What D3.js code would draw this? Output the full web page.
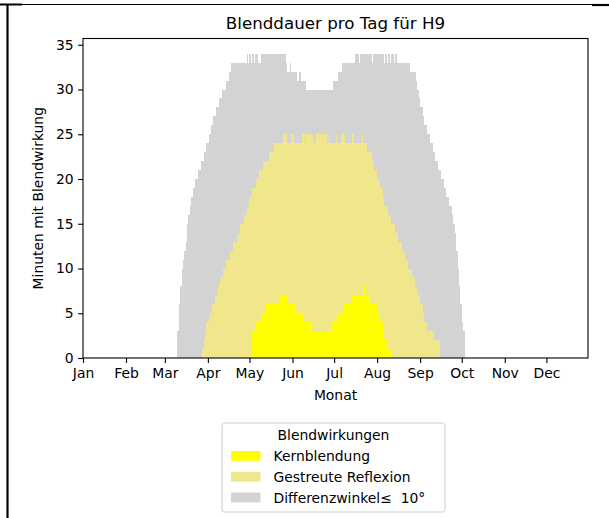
<!DOCTYPE html>
<html>
<head>
<meta charset="UTF-8">
<title>Blenddauer pro Tag für H9</title>
<script src="https://d3js.org/d3.v7.min.js"></script>
<style>
body { margin: 0; background: #fff; }
text { font-family: "DejaVu Sans", sans-serif; fill: #000; }
</style>
</head>

<body>

<figure class=chart style="margin:0"></figure>

<script type="text/javascript">

/* Data: runs of days [start day, end day, minutes], day 0 = 1 Jan */
var monthNames = ['Jan', 'Feb', 'Mar', 'Apr', 'May', 'Jun', 'Jul', 'Aug', 'Sep', 'Oct', 'Nov', 'Dec'];
var monthStarts = [0, 31, 59, 90, 120, 151, 181, 212, 243, 273, 304, 334];
var yTicks = [0, 5, 10, 15, 20, 25, 30, 35];

var winkelRuns = [[68,69,3],[69,70,6],[70,71,8],[71,72,10],[72,73,11],[73,74,12],[74,75,13],[75,76,15],
	[76,77,16],[77,78,17],[78,79,18],[79,81,19],[81,83,20],[83,85,21],[85,87,22],[87,89,23],[89,91,24],
	[91,92,25],[92,94,26],[94,96,27],[96,98,28],[98,100,29],[100,103,30],[103,105,31],[105,107,32],
	[107,118,33],[118,119,34],[119,120,33],[120,121,34],[121,122,33],[122,123,34],[123,124,33],[124,126,34],
	[126,128,33],[128,146,34],[146,147,33],[147,149,32],[149,150,33],[150,154,32],[154,156,31],[156,157,32],
	[157,161,31],[161,180,30],[180,184,31],[184,187,32],[187,196,33],[196,199,34],[199,200,33],[200,208,34],
	[208,209,33],[209,217,34],[217,218,33],[218,219,34],[219,220,33],[220,221,34],[221,222,33],[222,224,34],
	[224,225,33],[225,226,34],[226,236,33],[236,240,32],[240,241,31],[241,242,30],[242,243,29],[243,245,28],
	[245,246,27],[246,248,26],[248,250,25],[250,252,24],[252,254,23],[254,256,22],[256,258,21],[258,260,20],
	[260,262,19],[262,264,18],[264,266,17],[266,267,16],[267,268,15],[268,269,14],[269,270,12],[270,271,10],
	[271,272,8],[272,273,6],[273,274,4],[274,275,3]];

var streuRuns = [[86,87,1],[87,88,2],[88,89,3],[89,91,4],[91,93,5],[93,95,6],[95,97,7],[97,99,8],[99,101,9],
	[101,103,10],[103,106,11],[106,108,12],[108,111,13],[111,113,14],[113,116,15],[116,118,16],[118,120,17],
	[120,122,18],[122,125,19],[125,127,20],[127,130,21],[130,134,22],[134,138,23],[138,144,24],[144,147,25],
	[147,150,24],[150,152,25],[152,158,24],[158,160,25],[160,161,24],[161,166,25],[166,168,24],[168,176,25],
	[176,177,24],[177,178,25],[178,182,24],[182,183,25],[183,186,24],[186,189,25],[189,194,24],[194,195,25],
	[195,201,24],[201,202,25],[202,205,24],[205,208,23],[208,210,22],[210,212,21],[212,214,20],[214,216,19],
	[216,217,18],[217,220,17],[220,222,16],[222,225,15],[225,227,14],[227,230,13],[230,232,12],[232,234,11],
	[234,237,10],[237,239,9],[239,241,8],[241,243,7],[243,245,6],[245,246,5],[246,248,4],[248,253,3],[253,257,2]];

var kernRuns = [[122,125,3],[125,129,4],[129,132,5],[132,142,6],[142,147,7],[147,153,6],[153,159,5],
	[159,165,4],[165,179,3],[179,183,4],[183,188,5],[188,194,6],[194,202,7],[202,204,8],[204,207,7],
	[207,212,6],[212,214,5],[214,216,4],[216,220,2],[220,223,1]];

var seriesNames = ['Kernblendung', 'Gestreute Reflexion', 'Differenzwinkel\u2264  10\u00b0'];
var seriesColors = ['#ffff00', '#f0e68c', '#d3d3d3'];

/* Global variables */
var W = 609, H = 518
var plotLeft = 83, plotRight = 588, plotTop = 38.5, plotBottom = 358

var x = d3.scaleLinear().domain([0, 364]).range([plotLeft, plotRight])
var y = d3.scaleLinear().domain([0, 35.7]).range([plotBottom, plotTop])

var svg = d3.select('figure')
	.append('svg')
	.attr('width', W)
	.attr('height', H)

/* Functions */

function draw_frame() {
	// stray border lines of the screenshot
	svg.append('line').attr('x1', 0).attr('x2', W).attr('y1', 4.5).attr('y2', 4.5)
		.style('stroke', '#000').style('stroke-width', 1.2)
	svg.append('line').attr('x1', 0).attr('x2', 22).attr('y1', 4.5).attr('y2', 4.5)
		.style('stroke', '#000').style('stroke-width', 2)
	svg.append('line').attr('x1', 592).attr('x2', W).attr('y1', 5).attr('y2', 5)
		.style('stroke', '#000').style('stroke-width', 2.2)
	svg.append('line').attr('x1', 7.5).attr('x2', 7.5).attr('y1', 4).attr('y2', H)
		.style('stroke', '#000').style('stroke-width', 2.2)
}

function draw_runs(runs, color) {
	svg.append('g')
		.selectAll('rect')
		.data(runs)
		.enter()
		.append('rect')
		.attr('x', function(d) { return x(d[0]); })
		.attr('width', function(d) { return x(d[1]) - x(d[0]); })
		.attr('y', function(d) { return y(d[2]); })
		.attr('height', function(d) { return y(0) - y(d[2]); })
		.attr('shape-rendering', 'crispEdges')
		.style('fill', color)
}

function draw_axes() {
	var xAxis = svg.append('g')
		.attr('transform', 'translate(0,' + plotBottom + ')')
		.call(d3.axisBottom(x)
			.tickValues(monthStarts)
			.tickFormat(function(d, i) { return monthNames[i]; })
			.tickSize(4.9)
			.tickPadding(5.5))
	xAxis.select('.domain').remove()
	xAxis.selectAll('text').style('font-size', '13.9px').style('font-family', 'DejaVu Sans')
	xAxis.selectAll('line').style('stroke-width', 1.1)

	var yAxis = svg.append('g')
		.attr('transform', 'translate(' + plotLeft + ',0)')
		.call(d3.axisLeft(y)
			.tickValues(yTicks)
			.tickSize(4.9)
			.tickPadding(4.4))
	yAxis.select('.domain').remove()
	yAxis.selectAll('text').style('font-size', '13.9px').style('font-family', 'DejaVu Sans')
	yAxis.selectAll('line').style('stroke-width', 1.1)

	// spines
	svg.append('rect')
		.attr('x', plotLeft).attr('y', plotTop)
		.attr('width', plotRight - plotLeft).attr('height', plotBottom - plotTop)
		.style('fill', 'none').style('stroke', '#000').style('stroke-width', 1.1)

	svg.append('text')
		.attr('x', (plotLeft + plotRight) / 2).attr('y', 28.5)
		.attr('text-anchor', 'middle')
		.style('font-size', '16.7px')
		.text('Blenddauer pro Tag für H9')

	svg.append('text')
		.attr('x', (plotLeft + plotRight) / 2).attr('y', 400)
		.attr('text-anchor', 'middle')
		.style('font-size', '13.9px')
		.text('Monat')

	svg.append('text')
		.attr('transform', 'translate(43,' + ((plotTop + plotBottom) / 2) + ') rotate(-90)')
		.attr('text-anchor', 'middle')
		.style('font-size', '13.9px')
		.text('Minuten mit Blendwirkung')
}

function draw_legend() {
	var g = svg.append('g')
	g.append('rect')
		.attr('x', 222).attr('y', 423)
		.attr('width', 223).attr('height', 89)
		.attr('rx', 2.5)
		.style('fill', '#fff').style('stroke', '#cccccc').style('stroke-width', 1)
	g.append('text')
		.attr('x', 333.5).attr('y', 440)
		.attr('text-anchor', 'middle')
		.style('font-size', '13.9px')
		.text('Blendwirkungen')
	var rows = g.selectAll('.row')
		.data(seriesNames)
		.enter()
		.append('g')
		.attr('transform', function(d, i) { return 'translate(0,' + (451 + i * 20.8) + ')'; })
	rows.append('rect')
		.attr('x', 231).attr('y', 0)
		.attr('width', 29.5).attr('height', 9.8)
		.style('fill', function(d, i) { return seriesColors[i]; })
	rows.append('text')
		.attr('x', 273.5).attr('y', 10)
		.style('font-size', '13.9px')
		.style('white-space', 'pre')
		.text(function(d) { return d; })
}

/* Main code */
draw_frame()
draw_runs(winkelRuns, seriesColors[2])
draw_runs(streuRuns, seriesColors[1])
draw_runs(kernRuns, seriesColors[0])
draw_axes()
draw_legend()

</script>

</body>

</html>
